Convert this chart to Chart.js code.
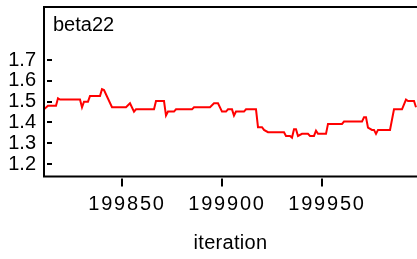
<!DOCTYPE html>
<html>
<head>
<meta charset="utf-8">
<script src="https://cdn.jsdelivr.net/npm/chart.js@4"></script>
<style>
html,body{margin:0;padding:0;background:#fff;}
#wrap{width:417px;height:259px;position:relative;}
</style>
</head>
<body>
<div id="wrap"><canvas id="c"></canvas></div>
<script>
const chartTitle = "beta22";
const xAxisTitle = "iteration";
const iterations = [199811,199813,199817,199818,199819,199829,199830,199831,199833,199834,199839,199840,199841,199845,199852,199854,199856,199857,199866,199867,199871,199872,199873,199876,199877,199885,199886,199894,199896,199898,199900,199902,199903,199905,199906,199907,199911,199912,199917,199918,199920,199921,199923,199931,199932,199934,199935,199936,199937,199938,199940,199943,199944,199946,199947,199948,199952,199953,199960,199961,199970,199971,199972,199973,199975,199976,199977,199978,199984,199986,199990,199992,199993,199996,199997];
const beta22 = [1.463,1.48,1.48,1.516,1.51,1.51,1.473,1.50,1.50,1.527,1.527,1.56,1.556,1.473,1.473,1.492,1.452,1.463,1.463,1.503,1.503,1.433,1.452,1.452,1.463,1.463,1.473,1.473,1.492,1.492,1.452,1.452,1.463,1.463,1.433,1.452,1.452,1.463,1.463,1.377,1.377,1.364,1.353,1.353,1.335,1.335,1.327,1.367,1.367,1.335,1.345,1.345,1.335,1.335,1.36,1.345,1.345,1.393,1.393,1.404,1.404,1.425,1.425,1.375,1.364,1.364,1.345,1.364,1.364,1.463,1.463,1.51,1.503,1.503,1.473];
const xTicks = [199850,199900,199950];
const xTickLabels = ["199850","199900","199950"];
const yTicks = [1.2,1.3,1.4,1.5,1.6,1.7];
const yTickLabels = ["1.2","1.3","1.4","1.5","1.6","1.7"];

const FONT = "'Liberation Sans', Arial, sans-serif";

function withSpacing(fn, sp){
  return function(){
    const ctx = this.ctx;
    const old = ctx.letterSpacing;
    ctx.letterSpacing = sp;
    const r = fn.apply(this, arguments);
    ctx.letterSpacing = old || '0px';
    return r;
  };
}

const framePlugin = {
  id: 'frame',
  beforeDraw(chart){
    const sx = chart.scales.x;
    if (!sx._wrapped){
      sx.drawLabels = withSpacing(sx.drawLabels, '1.8px');
      sx.drawTitle = withSpacing(sx.drawTitle, '0.3px');
      sx._wrapped = true;
    }
  },
  afterDraw(chart){
    const ctx = chart.ctx, a = chart.chartArea;
    const sx = chart.scales.x, sy = chart.scales.y;
    ctx.save();
    ctx.strokeStyle = '#000';
    ctx.lineWidth = 2;
    ctx.beginPath();
    ctx.moveTo(a.left, a.bottom);
    ctx.lineTo(a.left, a.top);
    ctx.lineTo(a.right + 2, a.top);
    ctx.moveTo(a.left - 1, a.bottom);
    ctx.lineTo(a.right + 2, a.bottom);
    ctx.stroke();
    ctx.beginPath();
    sy.ticks.forEach(t => {
      const y = Math.round(sy.getPixelForValue(t.value));
      ctx.moveTo(a.left + 3, y);
      ctx.lineTo(a.left + 8, y);
    });
    sx.ticks.forEach(t => {
      const x = sx.getPixelForValue(t.value);
      ctx.moveTo(x, a.bottom + 2);
      ctx.lineTo(x, a.bottom + 10);
    });
    ctx.stroke();
    ctx.fillStyle = '#000';
    ctx.font = "20px " + FONT;
    ctx.textAlign = 'left';
    ctx.textBaseline = 'alphabetic';
    ctx.fillText(chartTitle, a.left + 9, a.top + 23.7);
    ctx.restore();
  }
};

function zeroPad(s){ s.paddingTop = 0; s.paddingBottom = 0; s.paddingLeft = 0; s.paddingRight = 0; }

new Chart(document.getElementById('c'), {
  type: 'line',
  data: {
    datasets: [{
      data: iterations.map((x, i) => ({x: x, y: beta22[i]})),
      borderColor: '#ff0000',
      borderWidth: 2,
      pointRadius: 0,
      tension: 0,
      fill: false
    }]
  },
  options: {
    responsive: true,
    maintainAspectRatio: false,
    animation: false,
    devicePixelRatio: 1,
    layout: {padding: {top: 7, right: 0, left: 0, bottom: 0}},
    plugins: {legend: {display: false}, tooltip: {enabled: false}, title: {display: false}},
    scales: {
      x: {
        type: 'linear',
        min: 199811,
        max: 199997.5,
        grid: {display: false, drawTicks: false},
        border: {display: false},
        afterBuildTicks: s => { s.ticks = xTicks.map(v => ({value: v})); },
        afterFit: s => { s.height = 82.5; zeroPad(s); },
        ticks: {
          padding: 16,
          labelOffset: 5,
          maxRotation: 0,
          autoSkip: false,
          color: '#000',
          font: {family: FONT, size: 20},
          callback: (v) => xTickLabels[xTicks.indexOf(v)]
        },
        title: {
          display: true,
          text: xAxisTitle,
          color: '#000',
          font: {family: FONT, size: 20},
          padding: {top: 0, bottom: 4}
        }
      },
      y: {
        type: 'linear',
        min: 1.14,
        max: 1.955,
        grid: {display: false, drawTicks: false},
        border: {display: false},
        afterBuildTicks: s => { s.ticks = yTicks.map(v => ({value: v})); },
        afterFit: s => { s.width = 44; zeroPad(s); },
        ticks: {
          padding: 8,
          autoSkip: false,
          color: '#000',
          font: {family: FONT, size: 20},
          callback: (v) => { const i = yTicks.findIndex(t => Math.abs(t - v) < 1e-9); return i >= 0 ? yTickLabels[i] : ''; }
        }
      }
    }
  },
  plugins: [framePlugin]
});
</script>
</body>
</html>
